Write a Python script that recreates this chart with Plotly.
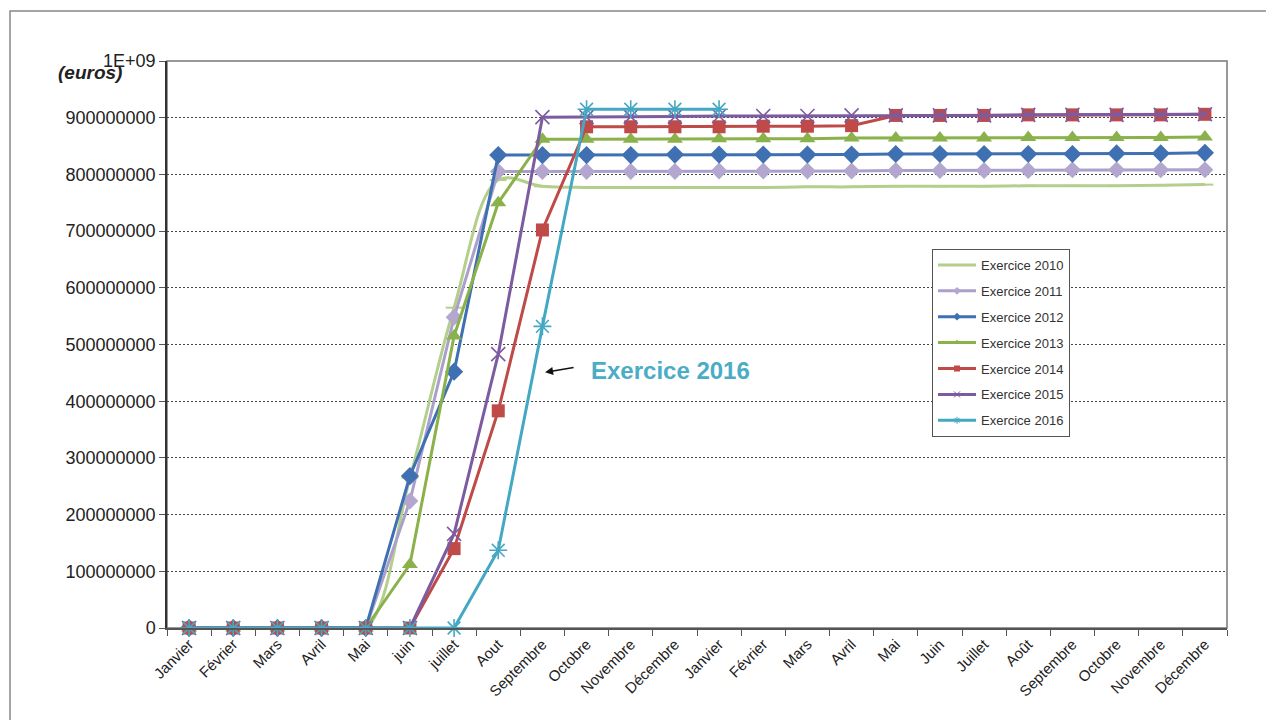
import plotly.graph_objects as go

# Month labels over two fiscal years (24 positions)
months = ["Janvier", "Février", "Mars", "Avril", "Mai", "juin", "juillet", "Aout",
          "Septembre", "Octobre", "Novembre", "Décembre",
          "Janvier", "Février", "Mars", "Avril", "Mai", "Juin", "Juillet", "Août",
          "Septembre", "Octobre", "Novembre", "Décembre"]

# Cumulative amounts per exercise (euros)
ex2010 = [0, 0, 0, 0, 0, 265e6, 565e6, 790e6, 779e6, 777e6, 777e6, 777e6,
          777e6, 777e6, 778e6, 778e6, 779e6, 779e6, 779e6, 780e6, 780e6, 780e6, 781e6, 782e6]
ex2011 = [0, 0, 0, 0, 0, 224e6, 548e6, 805e6, 805e6, 805e6, 805e6, 805e6,
          806e6, 806e6, 806e6, 806e6, 807e6, 807e6, 807e6, 807e6, 808e6, 808e6, 808e6, 808e6]
ex2012 = [0, 0, 0, 0, 0, 268e6, 452e6, 834e6, 834e6, 834e6, 834e6, 835e6,
          835e6, 835e6, 835e6, 835e6, 836e6, 836e6, 836e6, 836e6, 836e6, 837e6, 837e6, 838e6]
ex2013 = [0, 0, 0, 0, 0, 112e6, 515e6, 750e6, 862e6, 862e6, 862e6, 862e6,
          863e6, 863e6, 863e6, 864e6, 864e6, 864e6, 864e6, 865e6, 865e6, 865e6, 865e6, 866e6]
ex2014 = [0, 0, 0, 0, 0, 0, 140e6, 383e6, 702e6, 884e6, 884e6, 884e6,
          884e6, 885e6, 885e6, 886e6, 904e6, 904e6, 904e6, 905e6, 905e6, 905e6, 905e6, 906e6]
ex2015 = [0, 0, 0, 0, 0, 0, 166e6, 483e6, 901e6, 901e6, 902e6, 902e6,
          903e6, 903e6, 903e6, 904e6, 904e6, 904e6, 904e6, 905e6, 905e6, 905e6, 905e6, 906e6]
ex2016 = [0, 0, 0, 0, 0, 0, 0, 137e6, 532e6, 915e6, 915e6, 915e6, 915e6]

y_ticks = [0, 1e8, 2e8, 3e8, 4e8, 5e8, 6e8, 7e8, 8e8, 9e8, 1e9]
y_tick_text = ["0", "100000000", "200000000", "300000000", "400000000", "500000000",
               "600000000", "700000000", "800000000", "900000000", "1E+09"]

FONT = "Liberation Sans, Arial, sans-serif"

# name, values, line colour, plotted marker, legend marker, line shape
series = [
    ("Exercice 2010", ex2010, "#B4CF8C",
     dict(symbol="line-ew-open", size=12, line=dict(width=2, color="#B4CF8C")),
     dict(symbol="line-ew-open", size=6, line=dict(width=1.5, color="#B4CF8C")), "spline"),
    ("Exercice 2011", ex2011, "#ABA0CB",
     dict(symbol="diamond", size=13, color="#B3A7D0"),
     dict(symbol="diamond", size=6, color="#B3A7D0"), "linear"),
    ("Exercice 2012", ex2012, "#3F70B2",
     dict(symbol="diamond", size=14, color="#3F70B2"),
     dict(symbol="diamond", size=6, color="#3F70B2"), "linear"),
    ("Exercice 2013", ex2013, "#8AB14A",
     dict(symbol="triangle-up", size=14, color="#8AB14A"),
     dict(symbol="triangle-up", size=6, color="#8AB14A"), "linear"),
    ("Exercice 2014", ex2014, "#BF4A47",
     dict(symbol="square", size=13, color="#BF4A47"),
     dict(symbol="square", size=6, color="#BF4A47"), "linear"),
    ("Exercice 2015", ex2015, "#7C5BA0",
     dict(symbol="x-thin-open", size=14, line=dict(width=1.6, color="#7C5BA0")),
     dict(symbol="x-thin-open", size=6, line=dict(width=1, color="#7C5BA0")), "linear"),
    ("Exercice 2016", ex2016, "#45A8C3",
     dict(symbol="asterisk-open", size=15, line=dict(width=1.6, color="#45A8C3")),
     dict(symbol="asterisk-open", size=6, line=dict(width=1, color="#45A8C3")), "linear"),
]

fig = go.Figure()
for i, (name, vals, color, marker, leg_marker, shape) in enumerate(series):
    fig.add_trace(go.Scatter(
        x=list(range(len(vals))), y=vals, name=name, mode="lines+markers",
        line=dict(color=color, width=3, shape=shape),
        marker=marker, showlegend=False, cliponaxis=False,
    ))
    # legend entry with small marker glyphs
    fig.add_trace(go.Scatter(
        x=[None], y=[None], name=name, mode="lines+markers",
        line=dict(color=color, width=3), marker=leg_marker,
        legendgroup=f"g{i}", showlegend=True,
    ))

fig.update_layout(
    width=1266, height=720,
    margin=dict(l=167, r=39, t=61, b=92),
    paper_bgcolor="white", plot_bgcolor="white",
    font=dict(family=FONT, color="#222222"),
    showlegend=True,
    legend=dict(
        x=0.7217, y=0.6685, xanchor="left", yanchor="top",
        bgcolor="white", bordercolor="#555555", borderwidth=1,
        font=dict(size=13, color="#333333", family=FONT), tracegroupgap=6,
        traceorder="grouped", itemwidth=38,
    ),
    xaxis=dict(
        range=[-0.5, 23.5], tickmode="array", tickvals=list(range(24)), ticktext=months,
        tickangle=-45, tickfont=dict(size=15, color="#222222", family=FONT), ticks="", showgrid=False,
        showline=True, linecolor="#555555", linewidth=1.5, zeroline=False,
        minor=dict(tick0=0.5, dtick=1, ticks="outside", ticklen=6, tickcolor="#555555", showgrid=False),
    ),
    yaxis=dict(
        range=[0, 1e9], tickmode="array", tickvals=y_ticks, ticktext=y_tick_text,
        tickfont=dict(size=18, color="#222222", family=FONT), ticks="outside", ticklen=6,
        tickcolor="#555555",
        showgrid=True, gridcolor="#444444", gridwidth=1, griddash="2px,2px",
        showline=True, linecolor="#333333", linewidth=1.5, zeroline=False,
    ),
)

# Outer frame and plot box
fig.add_shape(type="rect", xref="paper", yref="paper", x0=-0.1481, y0=-0.3, x1=1.2, y1=1.0882,
              line=dict(color="#888888", width=1.5), layer="below")
fig.add_shape(type="rect", xref="paper", yref="paper", x0=0, y0=0, x1=1, y1=1,
              line=dict(color="#777777", width=1.5), layer="below")

# Unit label
fig.add_annotation(x=-0.0726, y=0.98, xref="paper", yref="paper", showarrow=False,
                   xanchor="center", yanchor="middle",
                   text="<b><i>(euros)</i></b>", font=dict(size=19, color="#222222", family=FONT))

# Callout for the 2016 exercise
fig.add_annotation(x=8.06, y=451e6, ax=30, ay=-5, xref="x", yref="y", text="",
                   showarrow=True, arrowhead=2, arrowsize=1, arrowwidth=1.6, arrowcolor="#111111")
fig.add_annotation(x=10.9, y=455e6, xref="x", yref="y", showarrow=False,
                   xanchor="center", yanchor="middle",
                   text="<b>Exercice 2016</b>", font=dict(size=24, color="#4BACC6", family=FONT))

fig.write_html("out.html")
